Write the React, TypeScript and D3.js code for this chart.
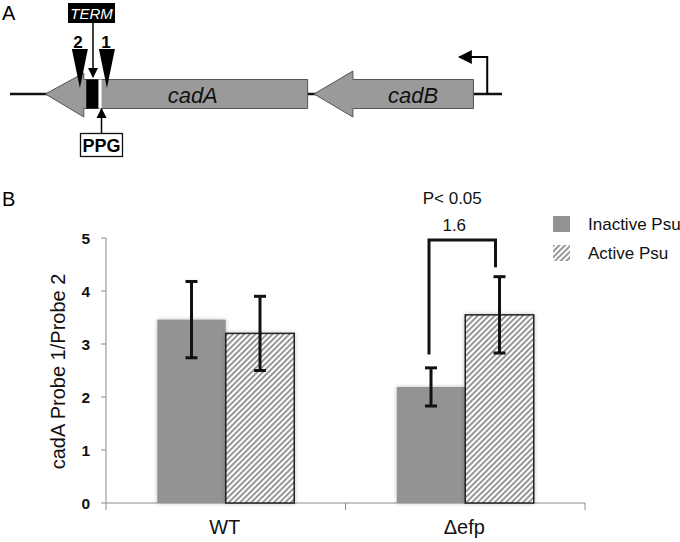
import React from 'react';
import * as d3 from 'd3';

// panel B data
const categories = ['WT', '\u0394efp'];
const inactiveValues = [3.46, 2.19];
const activeValues = [3.2, 3.55];
const inactiveErrors = [0.72, 0.36];
const activeErrors = [0.7, 0.72];
const yTicks = [0, 1, 2, 3, 4, 5];
const seriesNames = ['Inactive Psu', 'Active Psu'];

// significance bracket (y values) for Δefp
const bracketTop = 4.96;
const bracketLeftEnd = 2.8;
const bracketRightEnd = 4.45;

// panel A gene map, in map units (0..100)
const genes = [
  { name: 'cadA', start: 7.2, end: 60.5 },
  { name: 'cadB', start: 61.8, end: 94.2 },
];
const mapLine = [0, 100];
const headLength = [7.8, 7.9];
const termBlock = [15.5, 18];
const ppgPos = 18.6;
const probe2Pos = 14.2;
const probe1Pos = 19.7;
const promoterPos = 97;

const FONT = 'Liberation Sans, Arial, sans-serif';

const App = () => {
  const width = 680;
  const height = 542;
  const margin = { top: 238, right: 95, bottom: 39, left: 106 };
  const innerWidth = width - margin.left - margin.right;

  const x = d3.scaleBand<string>().domain(categories).range([margin.left, margin.left + innerWidth]);
  const y = d3.scaleLinear().domain([0, 5]).range([height - margin.bottom, margin.top]);
  const groupWidth = x.bandwidth() * 0.572;
  const sub = d3.scaleBand<string>().domain(seriesNames).range([0, groupWidth]);
  const y0 = y(0);

  // gene map scale
  const gx = d3.scaleLinear().domain([0, 100]).range([10, 502]);
  const lineY = 94;
  const bodyH = 14.5;
  const headH = 22;

  const geneArrow = (g: { start: number; end: number }, i: number) => {
    const tip = gx(g.start);
    const hb = gx(g.start + headLength[i]);
    const e = gx(g.end);
    const hh = i === 0 ? 21 : 23;
    return `M${tip},${lineY} L${hb},${lineY - hh} L${hb},${lineY - bodyH} L${e},${lineY - bodyH} L${e},${lineY + bodyH} L${hb},${lineY + bodyH} L${hb},${lineY + headH + 1} Z`;
  };

  const probeTri = (p: number) => {
    const cx = gx(p);
    return `M${cx - 8},49 L${cx + 8},49 L${cx},88 Z`;
  };

  const errBar = (cx: number, v: number, e: number, key: string) => (
    <g key={key} stroke="#111" strokeWidth={3}>
      <line x1={cx} x2={cx} y1={y(v + e)} y2={y(v - e)} />
      <line x1={cx - 6} x2={cx + 6} y1={y(v + e)} y2={y(v + e)} />
      <line x1={cx - 6} x2={cx + 6} y1={y(v - e)} y2={y(v - e)} />
    </g>
  );

  const dStart = (x(categories[1]) ?? 0) + (x.bandwidth() - groupWidth) / 2;
  const leftLeg = dStart + (sub(seriesNames[0]) ?? 0) + sub.bandwidth() / 2 - 2;
  const rightLeg = dStart + (sub(seriesNames[1]) ?? 0) + sub.bandwidth() / 2 - 4;

  return (
    <svg width={width} height={height} style={{ position: 'absolute', left: 0, top: 0, background: '#fff' }} fontFamily={FONT}>
      <defs>
        <pattern id="hatch" patternUnits="userSpaceOnUse" width={4} height={4} patternTransform="rotate(45)">
          <rect width={4} height={4} fill="#fff" />
          <line x1={1} y1={0} x2={1} y2={4} stroke="#8c8c8c" strokeWidth={1.8} />
        </pattern>
        <filter id="glow" x="-10%" y="-10%" width="120%" height="120%">
          <feGaussianBlur in="SourceAlpha" stdDeviation={2} />
          <feComponentTransfer><feFuncA type="linear" slope={0.25} /></feComponentTransfer>
          <feMerge><feMergeNode /><feMergeNode in="SourceGraphic" /></feMerge>
        </filter>
        <marker id="arr" viewBox="0 0 10 10" refX={9} refY={5} markerWidth={7} markerHeight={7} orient="auto-start-reverse">
          <path d="M0,0 L10,5 L0,10 Z" fill="#000" />
        </marker>
      </defs>

      {/* Panel A */}
      <text x={2} y={20} fontSize={20}>A</text>
      <line x1={gx(mapLine[0])} x2={gx(mapLine[1])} y1={lineY} y2={lineY} stroke="#111" strokeWidth={2.5} />
      {genes.map((g, i) => (
        <g key={g.name}>
          <path d={geneArrow(g, i)} fill="#9a9a9a" stroke="#555" strokeWidth={1} />
          <text x={(gx(g.start + headLength[i]) + gx(g.end)) / 2 + (i === 0 ? -3 : 0)} y={lineY + 9} fontSize={22} fontStyle="italic" textAnchor="middle" fill="#111">{g.name}</text>
        </g>
      ))}
      <rect x={gx(termBlock[0])} y={lineY - bodyH} width={gx(termBlock[1]) - gx(termBlock[0])} height={bodyH * 2} fill="#000" />
      <rect x={gx(termBlock[1])} y={lineY - bodyH} width={3} height={bodyH * 2} fill="#fff" />
      {/* probes */}
      <path d={probeTri(probe2Pos)} fill="#000" />
      <path d={probeTri(probe1Pos)} fill="#000" />
      <text x={gx(probe2Pos) - 2} y={48} fontSize={17} fontWeight="bold" textAnchor="middle">2</text>
      <text x={gx(probe1Pos) - 1} y={48} fontSize={17} fontWeight="bold" textAnchor="middle">1</text>
      {/* TERM */}
      <rect x={68} y={3} width={47} height={20} fill="#000" />
      <text x={91.5} y={19} fontSize={15} fontStyle="italic" fill="#fff" textAnchor="middle">TERM</text>
      <line x1={93} x2={93} y1={23} y2={77} stroke="#000" strokeWidth={1.5} markerEnd="url(#arr)" />
      {/* PPG */}
      <line x1={gx(ppgPos)} x2={gx(ppgPos)} y1={133} y2={109} stroke="#000" strokeWidth={1.5} markerEnd="url(#arr)" />
      <rect x={80.5} y={133.5} width={42} height={23} fill="#fff" stroke="#111" strokeWidth={1.3} />
      <text x={101.5} y={152} fontSize={18} fontWeight="bold" textAnchor="middle">PPG</text>
      {/* promoter */}
      <path d={`M${gx(promoterPos)},${lineY} L${gx(promoterPos)},57 L${gx(promoterPos) - 28},57`} fill="none" stroke="#000" strokeWidth={2} markerEnd="url(#arr)" />

      {/* Panel B */}
      <text x={2} y={206} fontSize={20}>B</text>
      {/* y axis */}
      <line x1={margin.left} x2={margin.left} y1={y(5)} y2={y0} stroke="#8a8a8a" strokeWidth={1} />
      {yTicks.map(t => (
        <g key={t}>
          <line x1={margin.left - 5} x2={margin.left} y1={y(t)} y2={y(t)} stroke="#8a8a8a" />
          <text x={margin.left - 16} y={y(t) + 5.5} fontSize={15.5} fontWeight="bold" textAnchor="end" fill="#111">{t}</text>
        </g>
      ))}
      <text transform={`translate(65,${(y(5) + y0) / 2 + 1}) rotate(-90)`} fontSize={20} textAnchor="middle" fill="#111">cadA Probe 1/Probe 2</text>
      {/* x axis */}
      <line x1={margin.left} x2={margin.left + innerWidth} y1={y0} y2={y0} stroke="#8a8a8a" />
      {[...categories.map(c => x(c) ?? 0), margin.left + innerWidth].map((t, i) => (
        <line key={i} x1={t} x2={t} y1={y0} y2={y0 + 7} stroke="#8a8a8a" />
      ))}
      {categories.map(c => (
        <text key={c} x={(x(c) ?? 0) + x.bandwidth() / 2 - 1} y={y0 + 31} fontSize={20} textAnchor="middle" fill="#111">{c}</text>
      ))}

      {/* bars */}
      {categories.map((c, i) => {
        const start = (x(c) ?? 0) + (x.bandwidth() - groupWidth) / 2;
        const xi = start + (sub(seriesNames[0]) ?? 0);
        const xa = start + (sub(seriesNames[1]) ?? 0);
        return (
          <g key={c}>
            <rect x={xi} y={y(inactiveValues[i])} width={sub.bandwidth()} height={y0 - y(inactiveValues[i])} fill="#939393" filter="url(#glow)" />
            <rect x={xa} y={y(activeValues[i])} width={sub.bandwidth()} height={y0 - y(activeValues[i])} fill="url(#hatch)" stroke="#222" strokeWidth={1.5} filter="url(#glow)" />
            {errBar(xi + sub.bandwidth() / 2, inactiveValues[i], inactiveErrors[i], 'ei')}
            {errBar(xa + sub.bandwidth() / 2, activeValues[i], activeErrors[i], 'ea')}
          </g>
        );
      })}

      {/* significance bracket */}
      <path d={`M${leftLeg},${y(bracketLeftEnd)} L${leftLeg},${y(bracketTop)} L${rightLeg},${y(bracketTop)} L${rightLeg},${y(bracketRightEnd)}`} fill="none" stroke="#111" strokeWidth={3} />
      <text x={(leftLeg + rightLeg) / 2 - 8} y={231} fontSize={17} textAnchor="middle" fill="#111">1.6</text>
      <text x={(leftLeg + rightLeg) / 2 - 10} y={204} fontSize={17} textAnchor="middle" fill="#111">P&lt; 0.05</text>

      {/* legend */}
      <rect x={553} y={216} width={17} height={16} fill="#939393" />
      <rect x={553} y={245} width={17} height={16} fill="url(#hatch)" />
      <text x={588} y={230} fontSize={17} fill="#111">{seriesNames[0]}</text>
      <text x={588} y={259} fontSize={17} fill="#111">{seriesNames[1]}</text>
    </svg>
  );
};

export default App;
